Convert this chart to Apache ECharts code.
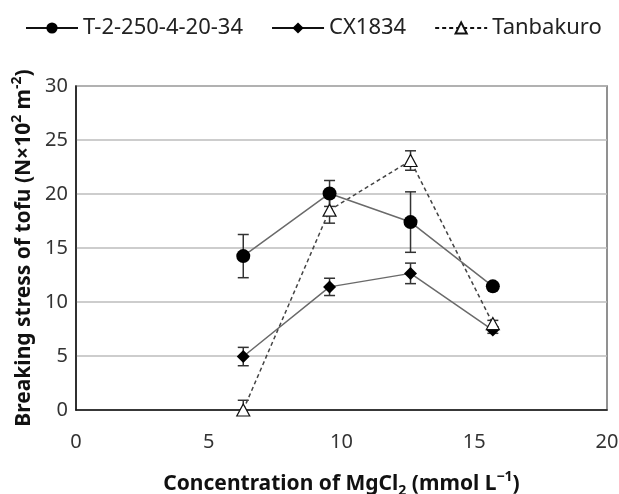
<!DOCTYPE html>
<html>
<head>
<meta charset="utf-8">
<script src="https://cdn.jsdelivr.net/npm/echarts@6/dist/echarts.min.js"></script>
<style>
  html, body { margin: 0; padding: 0; background: #fff; }
  #chart { width: 619px; height: 494px; }
</style>
</head>
<body>
<div id="chart"></div>
<script>
  // concentration of MgCl2 (mmol/L)
  var conc = [6.3, 9.55, 12.6, 15.7];
  var seriesNames = ['T-2-250-4-20-34', 'CX1834', 'Tanbakuro'];
  var tValues = [14.25, 20.05, 17.4, 11.45];
  var tErr = [2.0, 1.2, 2.8, 0.3];
  var cxValues = [4.95, 11.4, 12.65, 7.4];
  var cxErr = [0.85, 0.8, 0.95, 0.3];
  var tanValues = [0, 18.5, 23.1, 8.0];
  var tanErr = [0.9, 1.2, 0.9, 0.3];

  var font = 'Noto Sans';

  function pairs(vals) {
    return vals.map(function (v, i) { return [conc[i], v]; });
  }
  function errData(vals, errs) {
    return vals.map(function (v, i) { return [conc[i], v - errs[i], v + errs[i]]; });
  }

  // 误差线
  function renderErr(params, api) {
    var lo = api.coord([api.value(0), api.value(1)]);
    var hi = api.coord([api.value(0), api.value(2)]);
    var w = 5.5;
    var style = { stroke: '#333', lineWidth: 1.5 };
    return {
      type: 'group',
      children: [
        { type: 'line', shape: { x1: lo[0], y1: lo[1], x2: hi[0], y2: hi[1] }, style: style },
        { type: 'line', shape: { x1: lo[0] - w, y1: lo[1], x2: lo[0] + w, y2: lo[1] }, style: style },
        { type: 'line', shape: { x1: hi[0] - w, y1: hi[1], x2: hi[0] + w, y2: hi[1] }, style: style }
      ]
    };
  }

  function errSeries(vals, errs, z) {
    return {
      type: 'custom',
      renderItem: renderErr,
      data: errData(vals, errs),
      encode: { x: 0, y: [1, 2] },
      clip: true,
      z: z,
      silent: true
    };
  }

  var myChart = echarts.init(document.getElementById('chart'));

  var titleRich = {
    b: { fontFamily: font, fontSize: 21, fontWeight: 'bold', color: '#111', lineHeight: 28 },
    sub: { fontFamily: font, fontSize: 14, fontWeight: 'bold', color: '#111', lineHeight: 15, verticalAlign: 'bottom' },
    sup: { fontFamily: font, fontSize: 14, fontWeight: 'bold', color: '#111', lineHeight: 15, verticalAlign: 'top' }
  };

  var options = {
    animation: false,
    textStyle: { fontFamily: font },
    legend: {
      left: 20,
      top: 12,
      itemWidth: 52,
      itemHeight: 14,
      itemGap: 28,
      lineStyle: { color: '#111' },
      textStyle: { fontFamily: font, fontSize: 22, color: '#222' },
      data: seriesNames
    },
    grid: {
      left: 76,
      right: 12,
      top: 86,
      bottom: 84,
      outerBoundsMode: 'none',
      show: true,
      borderColor: '#6e6e6e',
      borderWidth: 1.5
    },
    xAxis: {
      type: 'value',
      min: 0,
      max: 20,
      interval: 5,
      name: '{b|Concentration of MgCl}{sub|2}{b| (mmol L}{sup|−1}{b|)}',
      nameLocation: 'middle',
      nameGap: 60,
      nameTextStyle: { rich: titleRich },
      axisLine: { lineStyle: { color: '#111', width: 1.5 } },
      axisTick: { show: false },
      axisLabel: { fontSize: 20, color: '#333', margin: 22 },
      splitLine: { show: false }
    },
    yAxis: {
      type: 'value',
      min: 0,
      max: 30,
      interval: 5,
      name: '{b|Breaking stress of tofu (N×10}{sup|2}{b| m}{sup|-2}{b|)}',
      nameLocation: 'middle',
      nameGap: 31,
      nameTextStyle: { rich: titleRich },
      axisLine: { show: true, lineStyle: { color: '#111', width: 1.5 } },
      axisTick: { show: false },
      axisLabel: { fontSize: 20, color: '#333', margin: 8 },
      splitLine: { lineStyle: { color: '#bdbdbd', width: 1.5 } }
    },
    series: [
      errSeries(tValues, tErr, 2),
      errSeries(cxValues, cxErr, 2),
      errSeries(tanValues, tanErr, 2),
      {
        name: seriesNames[0],
        type: 'line',
        data: pairs(tValues),
        symbol: 'circle',
        symbolSize: 14,
        itemStyle: { color: '#000' },
        lineStyle: { color: '#6a6a6a', width: 1.5 },
        z: 4
      },
      {
        name: seriesNames[1],
        type: 'line',
        data: pairs(cxValues),
        symbol: 'diamond',
        symbolSize: [13, 13],
        itemStyle: { color: '#000' },
        lineStyle: { color: '#6a6a6a', width: 1.5 },
        z: 3
      },
      {
        name: seriesNames[2],
        type: 'line',
        data: pairs(tanValues),
        symbol: 'triangle',
        symbolSize: [13, 12],
        showAllSymbol: true,
        itemStyle: { color: '#fff', borderColor: '#111', borderWidth: 1.2 },
        lineStyle: { color: '#444', width: 1.5, type: [4, 3] },
        z: 3
      }
    ]
  };
  myChart.setOption(options);
</script>
</body>
</html>
